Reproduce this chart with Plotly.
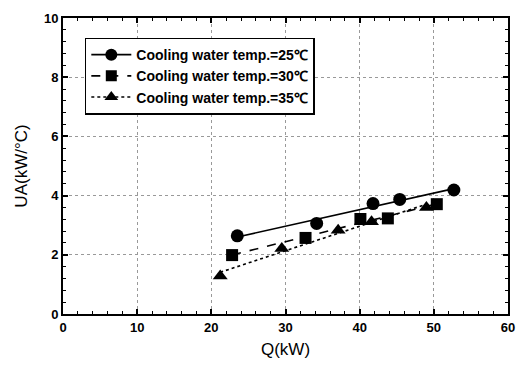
import numpy as np
import plotly.graph_objects as go

# Data
q_25 = [23.5, 34.2, 41.8, 45.4, 52.7]
ua_25 = [2.64, 3.06, 3.73, 3.87, 4.19]
q_30 = [22.8, 32.7, 40.1, 43.8, 50.4]
ua_30 = [1.99, 2.57, 3.21, 3.23, 3.71]
q_35 = [21.2, 29.5, 37.1, 41.6, 49.0]
ua_35 = [1.28, 2.21, 2.83, 3.12, 3.60]
labels = ["Cooling water temp.=25℃", "Cooling water temp.=30℃", "Cooling water temp.=35℃"]
x_ticks = [0, 10, 20, 30, 40, 50, 60]
y_ticks = [0, 2, 4, 6, 8, 10]

series = [
    (q_25, ua_25, labels[0], "circle", "solid"),
    (q_30, ua_30, labels[1], "square", "dash"),
    (q_35, ua_35, labels[2], "triangle-up", "dot"),
]

FONT = "Liberation Sans, Arial, sans-serif"

fig = go.Figure()
for qx, uy, name, sym, dash in series:
    xs = np.array(qx)
    ys = np.array(uy)
    k, b = np.polyfit(xs, ys, 1)
    fx = np.array([xs.min(), xs.max()])
    fig.add_trace(go.Scatter(x=fx, y=k * fx + b, mode="lines",
                             line=dict(color="black", width=1.6, dash=dash),
                             showlegend=False, hoverinfo="skip"))
    fig.add_trace(go.Scatter(x=xs, y=ys, mode="markers",
                             marker=dict(symbol=sym, color="black", size=13 if sym != "square" else 12),
                             showlegend=False))
    fig.add_trace(go.Scatter(x=[None], y=[None], mode="lines+markers", name=name,
                             line=dict(color="black", width=1.6, dash=dash),
                             marker=dict(symbol=sym, color="black", size=12 if sym != "square" else 11)))

axis_common = dict(
    showline=True, linecolor="black", linewidth=2, mirror="allticks",
    ticks="inside", ticklen=5, tickwidth=1.5, tickcolor="black",
    showgrid=True, gridcolor="#999999", griddash="dot", gridwidth=1,
    zeroline=False,
    tickfont=dict(family=FONT, size=13, color="black", weight=700),
)

fig.update_xaxes(range=[0, 60], tickvals=x_ticks, ticktext=[str(v) for v in x_ticks],
                 minor=dict(dtick=2, ticks="inside", ticklen=3, tickwidth=1.2, tickcolor="black", showgrid=False),
                 title=dict(text="Q(kW)", font=dict(family=FONT, size=17, color="black"), standoff=10),
                 **axis_common)
fig.update_yaxes(range=[0, 10], tickvals=y_ticks, ticktext=[str(v) for v in y_ticks],
                 minor=dict(dtick=0.4, ticks="inside", ticklen=3, tickwidth=1.2, tickcolor="black", showgrid=False),
                 title=dict(text="UA(kW/°C)", font=dict(family=FONT, size=17, color="black"), standoff=12),
                 **axis_common)

fig.update_layout(
    width=526, height=372,
    margin=dict(l=63, r=11, t=13, b=58),
    paper_bgcolor="white", plot_bgcolor="white",
    legend=dict(x=0.049, y=0.934, xanchor="left", yanchor="top",
                bgcolor="white", bordercolor="black", borderwidth=1.5,
                font=dict(family=FONT, size=14, color="black", weight=700),
                tracegroupgap=0, itemwidth=40),
)

fig.write_html("out.html")
